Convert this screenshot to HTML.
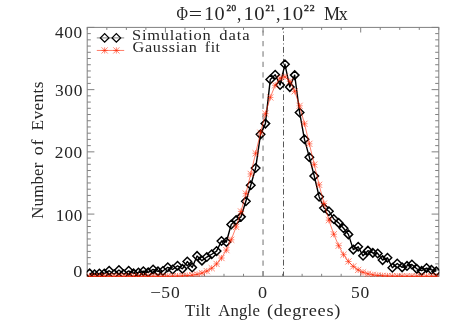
<!DOCTYPE html><html><head><meta charset="utf-8"><style>html,body{margin:0;padding:0;background:#fff}svg{display:block}text{filter:grayscale(1)}text{font-family:"Liberation Serif",serif;fill:#262626;font-kerning:none;white-space:pre}</style></head><body>
<svg width="465" height="332" viewBox="0 0 465 332">
<rect width="465" height="332" fill="#fff"/>
<line x1="263.05" y1="276.3" x2="263.05" y2="27.4" stroke="#a6a6a6" stroke-width="1.6" stroke-dasharray="5.3 5.16"/>
<line x1="283.5" y1="27.4" x2="283.5" y2="276.3" stroke="#585858" stroke-width="1.0" stroke-dasharray="5.9 2.45 1 2.47" stroke-dashoffset="4.12"/>
<rect x="87.2" y="27.4" width="351.6" height="248.9" fill="none" stroke="#808080" stroke-width="1"/>
<path d="M87.2 276.30h7.2M438.8 276.30h-7.2M87.2 270.08h3.6M438.8 270.08h-3.6M87.2 263.86h3.6M438.8 263.86h-3.6M87.2 257.63h3.6M438.8 257.63h-3.6M87.2 251.41h3.6M438.8 251.41h-3.6M87.2 245.19h3.6M438.8 245.19h-3.6M87.2 238.97h3.6M438.8 238.97h-3.6M87.2 232.74h3.6M438.8 232.74h-3.6M87.2 226.52h3.6M438.8 226.52h-3.6M87.2 220.30h3.6M438.8 220.30h-3.6M87.2 214.08h7.2M438.8 214.08h-7.2M87.2 207.85h3.6M438.8 207.85h-3.6M87.2 201.63h3.6M438.8 201.63h-3.6M87.2 195.41h3.6M438.8 195.41h-3.6M87.2 189.19h3.6M438.8 189.19h-3.6M87.2 182.96h3.6M438.8 182.96h-3.6M87.2 176.74h3.6M438.8 176.74h-3.6M87.2 170.52h3.6M438.8 170.52h-3.6M87.2 164.30h3.6M438.8 164.30h-3.6M87.2 158.07h3.6M438.8 158.07h-3.6M87.2 151.85h7.2M438.8 151.85h-7.2M87.2 145.63h3.6M438.8 145.63h-3.6M87.2 139.41h3.6M438.8 139.41h-3.6M87.2 133.18h3.6M438.8 133.18h-3.6M87.2 126.96h3.6M438.8 126.96h-3.6M87.2 120.74h3.6M438.8 120.74h-3.6M87.2 114.52h3.6M438.8 114.52h-3.6M87.2 108.29h3.6M438.8 108.29h-3.6M87.2 102.07h3.6M438.8 102.07h-3.6M87.2 95.85h3.6M438.8 95.85h-3.6M87.2 89.63h7.2M438.8 89.63h-7.2M87.2 83.40h3.6M438.8 83.40h-3.6M87.2 77.18h3.6M438.8 77.18h-3.6M87.2 70.96h3.6M438.8 70.96h-3.6M87.2 64.74h3.6M438.8 64.74h-3.6M87.2 58.51h3.6M438.8 58.51h-3.6M87.2 52.29h3.6M438.8 52.29h-3.6M87.2 46.07h3.6M438.8 46.07h-3.6M87.2 39.85h3.6M438.8 39.85h-3.6M87.2 33.62h3.6M438.8 33.62h-3.6M87.2 27.40h7.2M438.8 27.40h-7.2M87.30 276.3v-2.5M87.30 27.4v2.5M106.83 276.3v-2.5M106.83 27.4v2.5M126.35 276.3v-2.5M126.35 27.4v2.5M145.88 276.3v-2.5M145.88 27.4v2.5M165.41 276.3v-5.1M165.41 27.4v5.1M184.94 276.3v-2.5M184.94 27.4v2.5M204.47 276.3v-2.5M204.47 27.4v2.5M223.99 276.3v-2.5M223.99 27.4v2.5M243.52 276.3v-2.5M243.52 27.4v2.5M263.05 276.3v-5.1M263.05 27.4v5.1M282.58 276.3v-2.5M282.58 27.4v2.5M302.11 276.3v-2.5M302.11 27.4v2.5M321.63 276.3v-2.5M321.63 27.4v2.5M341.16 276.3v-2.5M341.16 27.4v2.5M360.69 276.3v-5.1M360.69 27.4v5.1M380.22 276.3v-2.5M380.22 27.4v2.5M399.75 276.3v-2.5M399.75 27.4v2.5M419.27 276.3v-2.5M419.27 27.4v2.5M438.80 276.3v-2.5M438.80 27.4v2.5" stroke="#808080" stroke-width="1" fill="none"/>
<clipPath id="cp"><rect x="86.7" y="26.9" width="352.6" height="250.1"/></clipPath><g clip-path="url(#cp)">
<polyline points="89.64,273.38 94.52,274.31 99.41,273.57 104.29,273.57 109.17,270.71 114.05,274.31 118.94,269.97 123.82,274.31 128.70,270.84 133.58,273.38 138.47,272.57 143.35,271.21 148.23,272.39 153.11,269.47 158.00,271.39 162.88,271.02 167.76,267.30 172.64,269.47 177.53,265.74 182.41,268.85 187.29,261.52 192.17,267.42 197.06,255.93 201.94,260.65 206.82,257.05 211.70,254.25 216.59,251.09 221.47,240.97 226.35,241.96 231.23,224.51 236.12,220.10 241.00,216.87 245.88,201.22 250.76,185.26 255.64,168.06 260.53,134.34 265.41,123.60 270.29,79.44 275.18,74.72 280.06,85.03 284.94,64.29 289.82,87.08 294.70,75.10 299.59,112.48 304.47,139.31 309.35,157.19 314.24,176.01 319.12,196.69 324.00,207.99 328.88,211.22 333.76,218.98 338.65,222.89 343.53,228.23 348.41,234.38 353.30,249.60 358.18,246.80 363.06,255.81 367.94,250.65 372.82,252.89 377.71,253.45 382.59,260.09 387.47,257.79 392.36,267.73 397.24,263.51 402.12,267.36 407.00,265.93 411.88,264.44 416.77,268.85 421.65,270.71 426.53,268.04 431.42,269.78 436.30,271.39" fill="none" stroke="#000" stroke-width="1.4" stroke-linejoin="round"/>
<path d="M85.39 273.38l4.25 -4.25l4.25 4.25l-4.25 4.25zM90.27 274.31l4.25 -4.25l4.25 4.25l-4.25 4.25zM95.16 273.57l4.25 -4.25l4.25 4.25l-4.25 4.25zM100.04 273.57l4.25 -4.25l4.25 4.25l-4.25 4.25zM104.92 270.71l4.25 -4.25l4.25 4.25l-4.25 4.25zM109.80 274.31l4.25 -4.25l4.25 4.25l-4.25 4.25zM114.69 269.97l4.25 -4.25l4.25 4.25l-4.25 4.25zM119.57 274.31l4.25 -4.25l4.25 4.25l-4.25 4.25zM124.45 270.84l4.25 -4.25l4.25 4.25l-4.25 4.25zM129.33 273.38l4.25 -4.25l4.25 4.25l-4.25 4.25zM134.22 272.57l4.25 -4.25l4.25 4.25l-4.25 4.25zM139.10 271.21l4.25 -4.25l4.25 4.25l-4.25 4.25zM143.98 272.39l4.25 -4.25l4.25 4.25l-4.25 4.25zM148.86 269.47l4.25 -4.25l4.25 4.25l-4.25 4.25zM153.75 271.39l4.25 -4.25l4.25 4.25l-4.25 4.25zM158.63 271.02l4.25 -4.25l4.25 4.25l-4.25 4.25zM163.51 267.30l4.25 -4.25l4.25 4.25l-4.25 4.25zM168.39 269.47l4.25 -4.25l4.25 4.25l-4.25 4.25zM173.28 265.74l4.25 -4.25l4.25 4.25l-4.25 4.25zM178.16 268.85l4.25 -4.25l4.25 4.25l-4.25 4.25zM183.04 261.52l4.25 -4.25l4.25 4.25l-4.25 4.25zM187.92 267.42l4.25 -4.25l4.25 4.25l-4.25 4.25zM192.81 255.93l4.25 -4.25l4.25 4.25l-4.25 4.25zM197.69 260.65l4.25 -4.25l4.25 4.25l-4.25 4.25zM202.57 257.05l4.25 -4.25l4.25 4.25l-4.25 4.25zM207.45 254.25l4.25 -4.25l4.25 4.25l-4.25 4.25zM212.34 251.09l4.25 -4.25l4.25 4.25l-4.25 4.25zM217.22 240.97l4.25 -4.25l4.25 4.25l-4.25 4.25zM222.10 241.96l4.25 -4.25l4.25 4.25l-4.25 4.25zM226.98 224.51l4.25 -4.25l4.25 4.25l-4.25 4.25zM231.87 220.10l4.25 -4.25l4.25 4.25l-4.25 4.25zM236.75 216.87l4.25 -4.25l4.25 4.25l-4.25 4.25zM241.63 201.22l4.25 -4.25l4.25 4.25l-4.25 4.25zM246.51 185.26l4.25 -4.25l4.25 4.25l-4.25 4.25zM251.39 168.06l4.25 -4.25l4.25 4.25l-4.25 4.25zM256.28 134.34l4.25 -4.25l4.25 4.25l-4.25 4.25zM261.16 123.60l4.25 -4.25l4.25 4.25l-4.25 4.25zM266.04 79.44l4.25 -4.25l4.25 4.25l-4.25 4.25zM270.93 74.72l4.25 -4.25l4.25 4.25l-4.25 4.25zM275.81 85.03l4.25 -4.25l4.25 4.25l-4.25 4.25zM280.69 64.29l4.25 -4.25l4.25 4.25l-4.25 4.25zM285.57 87.08l4.25 -4.25l4.25 4.25l-4.25 4.25zM290.45 75.10l4.25 -4.25l4.25 4.25l-4.25 4.25zM295.34 112.48l4.25 -4.25l4.25 4.25l-4.25 4.25zM300.22 139.31l4.25 -4.25l4.25 4.25l-4.25 4.25zM305.10 157.19l4.25 -4.25l4.25 4.25l-4.25 4.25zM309.99 176.01l4.25 -4.25l4.25 4.25l-4.25 4.25zM314.87 196.69l4.25 -4.25l4.25 4.25l-4.25 4.25zM319.75 207.99l4.25 -4.25l4.25 4.25l-4.25 4.25zM324.63 211.22l4.25 -4.25l4.25 4.25l-4.25 4.25zM329.51 218.98l4.25 -4.25l4.25 4.25l-4.25 4.25zM334.40 222.89l4.25 -4.25l4.25 4.25l-4.25 4.25zM339.28 228.23l4.25 -4.25l4.25 4.25l-4.25 4.25zM344.16 234.38l4.25 -4.25l4.25 4.25l-4.25 4.25zM349.05 249.60l4.25 -4.25l4.25 4.25l-4.25 4.25zM353.93 246.80l4.25 -4.25l4.25 4.25l-4.25 4.25zM358.81 255.81l4.25 -4.25l4.25 4.25l-4.25 4.25zM363.69 250.65l4.25 -4.25l4.25 4.25l-4.25 4.25zM368.57 252.89l4.25 -4.25l4.25 4.25l-4.25 4.25zM373.46 253.45l4.25 -4.25l4.25 4.25l-4.25 4.25zM378.34 260.09l4.25 -4.25l4.25 4.25l-4.25 4.25zM383.22 257.79l4.25 -4.25l4.25 4.25l-4.25 4.25zM388.11 267.73l4.25 -4.25l4.25 4.25l-4.25 4.25zM392.99 263.51l4.25 -4.25l4.25 4.25l-4.25 4.25zM397.87 267.36l4.25 -4.25l4.25 4.25l-4.25 4.25zM402.75 265.93l4.25 -4.25l4.25 4.25l-4.25 4.25zM407.63 264.44l4.25 -4.25l4.25 4.25l-4.25 4.25zM412.52 268.85l4.25 -4.25l4.25 4.25l-4.25 4.25zM417.40 270.71l4.25 -4.25l4.25 4.25l-4.25 4.25zM422.28 268.04l4.25 -4.25l4.25 4.25l-4.25 4.25zM427.17 269.78l4.25 -4.25l4.25 4.25l-4.25 4.25zM432.05 271.39l4.25 -4.25l4.25 4.25l-4.25 4.25z" fill="none" stroke="#000" stroke-width="1.5"/>
<polyline points="89.64,276.30 94.52,276.30 99.41,276.30 104.29,276.30 109.17,276.30 114.05,276.30 118.94,276.30 123.82,276.30 128.70,276.30 133.58,276.30 138.47,276.30 143.35,276.30 148.23,276.30 153.11,276.29 158.00,276.29 162.88,276.28 167.76,276.25 172.64,276.20 177.53,276.11 182.41,275.95 187.29,275.66 192.17,275.17 197.06,274.37 201.94,273.09 206.82,271.12 211.70,268.18 216.59,263.94 221.47,258.03 226.35,250.09 231.23,239.79 236.12,226.91 241.00,211.45 245.88,193.62 250.76,173.95 255.64,153.29 260.53,132.76 265.41,113.68 270.29,97.42 275.18,85.26 280.06,78.20 284.94,76.87 289.82,81.36 294.70,91.30 299.59,105.83 304.47,123.80 309.35,143.84 314.24,164.59 319.12,184.83 324.00,203.59 328.88,220.18 333.76,234.24 338.65,245.70 343.53,254.68 348.41,261.47 353.30,266.43 358.18,269.92 363.06,272.29 367.94,273.86 372.82,274.85 377.71,275.47 382.59,275.84 387.47,276.05 392.36,276.17 397.24,276.23 402.12,276.27 407.00,276.28 411.88,276.29 416.77,276.30 421.65,276.30 426.53,276.30 431.42,276.30 436.30,276.30" fill="none" stroke="#ff2400" stroke-width="0.6"/>
<path d="M86.54 276.30h6.2M89.64 273.20v6.2M86.54 273.20l6.2 6.2M86.54 279.40l6.2 -6.2M91.42 276.30h6.2M94.52 273.20v6.2M91.42 273.20l6.2 6.2M91.42 279.40l6.2 -6.2M96.31 276.30h6.2M99.41 273.20v6.2M96.31 273.20l6.2 6.2M96.31 279.40l6.2 -6.2M101.19 276.30h6.2M104.29 273.20v6.2M101.19 273.20l6.2 6.2M101.19 279.40l6.2 -6.2M106.07 276.30h6.2M109.17 273.20v6.2M106.07 273.20l6.2 6.2M106.07 279.40l6.2 -6.2M110.95 276.30h6.2M114.05 273.20v6.2M110.95 273.20l6.2 6.2M110.95 279.40l6.2 -6.2M115.84 276.30h6.2M118.94 273.20v6.2M115.84 273.20l6.2 6.2M115.84 279.40l6.2 -6.2M120.72 276.30h6.2M123.82 273.20v6.2M120.72 273.20l6.2 6.2M120.72 279.40l6.2 -6.2M125.60 276.30h6.2M128.70 273.20v6.2M125.60 273.20l6.2 6.2M125.60 279.40l6.2 -6.2M130.48 276.30h6.2M133.58 273.20v6.2M130.48 273.20l6.2 6.2M130.48 279.40l6.2 -6.2M135.37 276.30h6.2M138.47 273.20v6.2M135.37 273.20l6.2 6.2M135.37 279.40l6.2 -6.2M140.25 276.30h6.2M143.35 273.20v6.2M140.25 273.20l6.2 6.2M140.25 279.40l6.2 -6.2M145.13 276.30h6.2M148.23 273.20v6.2M145.13 273.20l6.2 6.2M145.13 279.40l6.2 -6.2M150.01 276.29h6.2M153.11 273.19v6.2M150.01 273.19l6.2 6.2M150.01 279.39l6.2 -6.2M154.90 276.29h6.2M158.00 273.19v6.2M154.90 273.19l6.2 6.2M154.90 279.39l6.2 -6.2M159.78 276.28h6.2M162.88 273.18v6.2M159.78 273.18l6.2 6.2M159.78 279.38l6.2 -6.2M164.66 276.25h6.2M167.76 273.15v6.2M164.66 273.15l6.2 6.2M164.66 279.35l6.2 -6.2M169.54 276.20h6.2M172.64 273.10v6.2M169.54 273.10l6.2 6.2M169.54 279.30l6.2 -6.2M174.43 276.11h6.2M177.53 273.01v6.2M174.43 273.01l6.2 6.2M174.43 279.21l6.2 -6.2M179.31 275.95h6.2M182.41 272.85v6.2M179.31 272.85l6.2 6.2M179.31 279.05l6.2 -6.2M184.19 275.66h6.2M187.29 272.56v6.2M184.19 272.56l6.2 6.2M184.19 278.76l6.2 -6.2M189.07 275.17h6.2M192.17 272.07v6.2M189.07 272.07l6.2 6.2M189.07 278.27l6.2 -6.2M193.96 274.37h6.2M197.06 271.27v6.2M193.96 271.27l6.2 6.2M193.96 277.47l6.2 -6.2M198.84 273.09h6.2M201.94 269.99v6.2M198.84 269.99l6.2 6.2M198.84 276.19l6.2 -6.2M203.72 271.12h6.2M206.82 268.02v6.2M203.72 268.02l6.2 6.2M203.72 274.22l6.2 -6.2M208.60 268.18h6.2M211.70 265.08v6.2M208.60 265.08l6.2 6.2M208.60 271.28l6.2 -6.2M213.49 263.94h6.2M216.59 260.84v6.2M213.49 260.84l6.2 6.2M213.49 267.04l6.2 -6.2M218.37 258.03h6.2M221.47 254.93v6.2M218.37 254.93l6.2 6.2M218.37 261.13l6.2 -6.2M223.25 250.09h6.2M226.35 246.99v6.2M223.25 246.99l6.2 6.2M223.25 253.19l6.2 -6.2M228.13 239.79h6.2M231.23 236.69v6.2M228.13 236.69l6.2 6.2M228.13 242.89l6.2 -6.2M233.02 226.91h6.2M236.12 223.81v6.2M233.02 223.81l6.2 6.2M233.02 230.01l6.2 -6.2M237.90 211.45h6.2M241.00 208.35v6.2M237.90 208.35l6.2 6.2M237.90 214.55l6.2 -6.2M242.78 193.62h6.2M245.88 190.52v6.2M242.78 190.52l6.2 6.2M242.78 196.72l6.2 -6.2M247.66 173.95h6.2M250.76 170.85v6.2M247.66 170.85l6.2 6.2M247.66 177.05l6.2 -6.2M252.54 153.29h6.2M255.64 150.19v6.2M252.54 150.19l6.2 6.2M252.54 156.39l6.2 -6.2M257.43 132.76h6.2M260.53 129.66v6.2M257.43 129.66l6.2 6.2M257.43 135.86l6.2 -6.2M262.31 113.68h6.2M265.41 110.58v6.2M262.31 110.58l6.2 6.2M262.31 116.78l6.2 -6.2M267.19 97.42h6.2M270.29 94.32v6.2M267.19 94.32l6.2 6.2M267.19 100.52l6.2 -6.2M272.07 85.26h6.2M275.18 82.16v6.2M272.07 82.16l6.2 6.2M272.07 88.36l6.2 -6.2M276.96 78.20h6.2M280.06 75.10v6.2M276.96 75.10l6.2 6.2M276.96 81.30l6.2 -6.2M281.84 76.87h6.2M284.94 73.77v6.2M281.84 73.77l6.2 6.2M281.84 79.97l6.2 -6.2M286.72 81.36h6.2M289.82 78.26v6.2M286.72 78.26l6.2 6.2M286.72 84.46l6.2 -6.2M291.60 91.30h6.2M294.70 88.20v6.2M291.60 88.20l6.2 6.2M291.60 94.40l6.2 -6.2M296.49 105.83h6.2M299.59 102.73v6.2M296.49 102.73l6.2 6.2M296.49 108.93l6.2 -6.2M301.37 123.80h6.2M304.47 120.70v6.2M301.37 120.70l6.2 6.2M301.37 126.90l6.2 -6.2M306.25 143.84h6.2M309.35 140.74v6.2M306.25 140.74l6.2 6.2M306.25 146.94l6.2 -6.2M311.13 164.59h6.2M314.24 161.49v6.2M311.13 161.49l6.2 6.2M311.13 167.69l6.2 -6.2M316.02 184.83h6.2M319.12 181.73v6.2M316.02 181.73l6.2 6.2M316.02 187.93l6.2 -6.2M320.90 203.59h6.2M324.00 200.49v6.2M320.90 200.49l6.2 6.2M320.90 206.69l6.2 -6.2M325.78 220.18h6.2M328.88 217.08v6.2M325.78 217.08l6.2 6.2M325.78 223.28l6.2 -6.2M330.66 234.24h6.2M333.76 231.14v6.2M330.66 231.14l6.2 6.2M330.66 237.34l6.2 -6.2M335.55 245.70h6.2M338.65 242.60v6.2M335.55 242.60l6.2 6.2M335.55 248.80l6.2 -6.2M340.43 254.68h6.2M343.53 251.58v6.2M340.43 251.58l6.2 6.2M340.43 257.78l6.2 -6.2M345.31 261.47h6.2M348.41 258.37v6.2M345.31 258.37l6.2 6.2M345.31 264.57l6.2 -6.2M350.19 266.43h6.2M353.30 263.33v6.2M350.19 263.33l6.2 6.2M350.19 269.53l6.2 -6.2M355.08 269.92h6.2M358.18 266.82v6.2M355.08 266.82l6.2 6.2M355.08 273.02l6.2 -6.2M359.96 272.29h6.2M363.06 269.19v6.2M359.96 269.19l6.2 6.2M359.96 275.39l6.2 -6.2M364.84 273.86h6.2M367.94 270.76v6.2M364.84 270.76l6.2 6.2M364.84 276.96l6.2 -6.2M369.72 274.85h6.2M372.82 271.75v6.2M369.72 271.75l6.2 6.2M369.72 277.95l6.2 -6.2M374.61 275.47h6.2M377.71 272.37v6.2M374.61 272.37l6.2 6.2M374.61 278.57l6.2 -6.2M379.49 275.84h6.2M382.59 272.74v6.2M379.49 272.74l6.2 6.2M379.49 278.94l6.2 -6.2M384.37 276.05h6.2M387.47 272.95v6.2M384.37 272.95l6.2 6.2M384.37 279.15l6.2 -6.2M389.25 276.17h6.2M392.36 273.07v6.2M389.25 273.07l6.2 6.2M389.25 279.27l6.2 -6.2M394.14 276.23h6.2M397.24 273.13v6.2M394.14 273.13l6.2 6.2M394.14 279.33l6.2 -6.2M399.02 276.27h6.2M402.12 273.17v6.2M399.02 273.17l6.2 6.2M399.02 279.37l6.2 -6.2M403.90 276.28h6.2M407.00 273.18v6.2M403.90 273.18l6.2 6.2M403.90 279.38l6.2 -6.2M408.78 276.29h6.2M411.88 273.19v6.2M408.78 273.19l6.2 6.2M408.78 279.39l6.2 -6.2M413.67 276.30h6.2M416.77 273.20v6.2M413.67 273.20l6.2 6.2M413.67 279.40l6.2 -6.2M418.55 276.30h6.2M421.65 273.20v6.2M418.55 273.20l6.2 6.2M418.55 279.40l6.2 -6.2M423.43 276.30h6.2M426.53 273.20v6.2M423.43 273.20l6.2 6.2M423.43 279.40l6.2 -6.2M428.31 276.30h6.2M431.42 273.20v6.2M428.31 273.20l6.2 6.2M428.31 279.40l6.2 -6.2M433.20 276.30h6.2M436.30 273.20v6.2M433.20 273.20l6.2 6.2M433.20 279.40l6.2 -6.2" fill="none" stroke="#ff2400" stroke-width="0.55"/>
</g>
<line x1="96.8" y1="37.9" x2="124.2" y2="37.9" stroke="#8a8a8a" stroke-width="1"/>
<path d="M100.40 37.90l4.25 -4.25l4.25 4.25l-4.25 4.25zM112.10 37.90l4.25 -4.25l4.25 4.25l-4.25 4.25z" fill="none" stroke="#000" stroke-width="1.3"/>
<line x1="96.8" y1="50.45" x2="124.2" y2="50.45" stroke="#ff2400" stroke-width="0.6"/>
<path d="M101.55 50.40h6.2M104.65 47.30v6.2M101.55 47.30l6.2 6.2M101.55 53.50l6.2 -6.2M113.25 50.40h6.2M116.35 47.30v6.2M113.25 47.30l6.2 6.2M113.25 53.50l6.2 -6.2" fill="none" stroke="#ff2400" stroke-width="0.55"/>
<text transform="translate(133.20,39.8) scale(1.1627,1)" x="-0.943" font-size="14.1" letter-spacing="0.630" >Simulation</text>
<text transform="translate(219.90,39.8) scale(1.1796,1)" x="-0.509" font-size="14.1" letter-spacing="0.771" >data</text>
<text transform="translate(133.20,52.4) scale(1.1485,1)" x="-0.578" font-size="14.1" letter-spacing="0.627" >Gaussian</text>
<text transform="translate(205.30,52.4) scale(1.1292,1)" x="-0.434" font-size="14.1" letter-spacing="0.458" >fit</text>
<text transform="translate(177.00,19.8) scale(0.7991,1)" x="-0.593" font-size="19.6" letter-spacing="0.000" >Φ</text>
<text transform="translate(190.00,19.8) scale(1.2061,1)" x="-0.976" font-size="19.6" letter-spacing="0.000" >=</text>
<text transform="translate(205.80,19.8) scale(1.0339,1)" x="-1.723" font-size="19.6" letter-spacing="0.375" >10</text>
<text transform="translate(226.80,11.1) scale(1.1087,1)" x="-0.365" font-size="8.3" letter-spacing="0.498" stroke="#262626" stroke-width="0.4">20</text>
<text transform="translate(237.75,19.8) scale(0.8736,1)" x="-0.746" font-size="19.6" letter-spacing="0.000" >,</text>
<text transform="translate(245.20,19.8) scale(1.0550,1)" x="-1.723" font-size="19.6" letter-spacing="0.595" >10</text>
<text transform="translate(265.80,11.1) scale(1.0777,1)" x="-0.365" font-size="8.3" letter-spacing="0.358" stroke="#262626" stroke-width="0.4">21</text>
<text transform="translate(276.60,19.8) scale(0.9250,1)" x="-0.746" font-size="19.6" letter-spacing="0.000" >,</text>
<text transform="translate(283.60,19.8) scale(1.0585,1)" x="-1.723" font-size="19.6" letter-spacing="0.631" >10</text>
<text transform="translate(304.30,11.1) scale(1.1864,1)" x="-0.365" font-size="8.3" letter-spacing="0.783" stroke="#262626" stroke-width="0.4">22</text>
<text transform="translate(324.60,19.8) scale(0.9223,1)" x="-0.565" font-size="19.6" letter-spacing="-1.485" >Mx</text>
<text transform="translate(55.40,37.9) scale(1.0760,1)" x="-0.312" font-size="16.0" letter-spacing="0.543" >400</text>
<text transform="translate(55.80,95.6) scale(1.0869,1)" x="-0.766" font-size="16.0" letter-spacing="0.603" >300</text>
<text transform="translate(55.60,157.7) scale(1.0876,1)" x="-0.703" font-size="16.0" letter-spacing="0.609" >200</text>
<text transform="translate(57.20,220.5) scale(1.0659,1)" x="-1.406" font-size="16.0" letter-spacing="0.453" >100</text>
<text transform="translate(74.00,277.1) scale(1.1355,1)" x="-0.609" font-size="16.0" letter-spacing="0.000" >0</text>
<text transform="translate(151.20,298.0) scale(1.1954,1)" x="-0.797" font-size="16.0" letter-spacing="0.000" >−</text>
<text transform="translate(162.20,298.0) scale(1.0971,1)" x="-0.930" font-size="16.0" letter-spacing="0.853" >50</text>
<text transform="translate(258.70,298.0) scale(1.1355,1)" x="-0.609" font-size="16.0" letter-spacing="0.000" >0</text>
<text transform="translate(351.90,298.0) scale(1.0929,1)" x="-0.930" font-size="16.0" letter-spacing="0.819" >50</text>
<text transform="translate(185.40,315.9) scale(1.0414,1)" x="-0.293" font-size="16.2" letter-spacing="0.203" >Tilt</text>
<text transform="translate(218.30,315.9) scale(1.0329,1)" x="-0.158" font-size="16.2" letter-spacing="0.206" >Angle</text>
<text transform="translate(267.70,315.9) scale(1.1322,1)" x="-0.712" font-size="16.2" letter-spacing="0.573" >(degrees)</text>
<text transform="translate(43.3,218.30) rotate(-90) scale(1.0295,1)" x="-0.470" font-size="16.3" letter-spacing="0.202">Number</text>
<text transform="translate(43.3,154.50) rotate(-90) scale(1.0900,1)" x="-0.621" font-size="16.3" letter-spacing="0.713">of</text>
<text transform="translate(43.3,129.90) rotate(-90) scale(1.0609,1)" x="-0.470" font-size="16.3" letter-spacing="0.331">Events</text>
</svg></body></html>
